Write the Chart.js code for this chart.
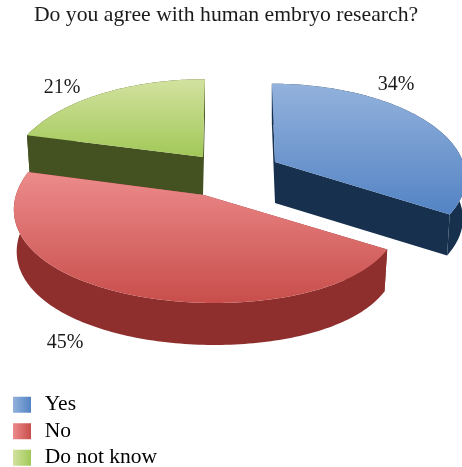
<!DOCTYPE html>
<html>
<head>
<meta charset="utf-8">
<style>
  html, body { margin: 0; padding: 0; background: #fff; }
  canvas { display: block; }
</style>
<script src="https://cdn.jsdelivr.net/npm/chart.js@4"></script>
</head>
<body>
<canvas id="pie" width="462" height="467"></canvas>
<script>
/* DATA */
const categories = ["Yes", "No", "Do not know"];
const percents = [34, 45, 21];
const chartTitle = "Do you agree with human embryo research?";

/* COLOURS: top face light -> dark, then the side wall */
const lightColors = ["#93b2dc", "#ec8b8b", "#d2e29f"];
const darkColors = ["#5383c4", "#c84e4b", "#a2c858"];
const sideColors = ["#17304e", "#8e2f2d", "#445221"];

/* PROJECTION of each slice: where the tip lands, how the flat circle is squashed */
const sliceGeom = [
  { ax: 275, ay: 162, rx: 188, ry: 90, px: 0.15, py: 0.15, shear: 0.04, depth: 41 },
  { ax: 204, ay: 195, rx: 188, ry: 95, px: 0.2, py: 0.12, shear: 0.1, depth: 42 },
  { ax: 203, ay: 157, rx: 190, ry: 91, px: 0.17, py: 0.17, shear: -0.025, depth: 38 }
];
const labelSpots = [[396, 85], [65, 343], [62, 88]];
const FONT = "'Liberation Serif', serif";

function project(g, theta) {
  const u = Math.sin(theta), v = Math.cos(theta);
  const dy = -g.ry * v / (1 + g.py * v);
  return { x: g.ax + g.rx * u / (1 + g.px * v) + g.shear * dy, y: g.ay + dy };
}

function arcPoints(g, start, end) {
  const pts = [];
  const steps = Math.ceil((end - start) / 0.02);
  for (let i = 0; i <= steps; i++) {
    pts.push(project(g, start + (end - start) * i / steps));
  }
  return pts;
}

function tracePath(ctx, pts) {
  ctx.beginPath();
  pts.forEach((p, i) => i ? ctx.lineTo(p.x, p.y) : ctx.moveTo(p.x, p.y));
  ctx.closePath();
}

function drawSlice(ctx, arc, i) {
  const g = sliceGeom[i];
  // library angles start at -90deg, the projection counts from 12 o'clock
  const rim = arcPoints(g, arc.startAngle + Math.PI / 2, arc.endAngle + Math.PI / 2);
  const tip = { x: g.ax, y: g.ay };
  const low = p => ({ x: g.ax + (p.x - g.ax) * 0.985, y: p.y + g.depth });
  const first = rim[0], last = rim[rim.length - 1];

  // side walls: the round one and both cut faces
  ctx.fillStyle = sideColors[i];
  tracePath(ctx, rim.concat(rim.map(low).reverse()));
  ctx.fill();
  tracePath(ctx, [tip, first, low(first), low(tip)]);
  ctx.fill();
  tracePath(ctx, [tip, last, low(last), low(tip)]);
  ctx.fill();

  // top face
  const pts = [tip].concat(rim);
  const ys = pts.map(p => p.y);
  const grad = ctx.createLinearGradient(0, Math.min(...ys), 0, Math.max(...ys));
  grad.addColorStop(0, lightColors[i]);
  grad.addColorStop(1, darkColors[i]);
  tracePath(ctx, pts);
  ctx.fillStyle = grad;
  ctx.fill();
}

const pie3d = {
  id: "pie3d",
  beforeDatasetsDraw(chart) {
    const ctx = chart.ctx;
    const arcs = chart.getDatasetMeta(0).data;
    ctx.save();
    // back slices first, the red one sits in front
    [2, 0, 1].forEach(i => drawSlice(ctx, arcs[i], i));
    ctx.fillStyle = "#1a1a1a";
    ctx.font = "20px " + FONT;
    ctx.textAlign = "center";
    ctx.textBaseline = "middle";
    percents.forEach((v, i) => ctx.fillText(v + "%", labelSpots[i][0], labelSpots[i][1]));
    ctx.restore();
    return false;
  }
};

const gctx = document.getElementById("pie").getContext("2d");

function legendFill(i) {
  // box is wider than the visible swatch, this keeps the text gap right
  const grad = gctx.createLinearGradient(13, 0, 34, 0);
  grad.addColorStop(0, lightColors[i]);
  grad.addColorStop(18 / 21, darkColors[i]);
  grad.addColorStop(18 / 21, "rgba(255,255,255,0)");
  grad.addColorStop(1, "rgba(255,255,255,0)");
  return grad;
}

new Chart(gctx, {
  type: "pie",
  data: {
    labels: categories,
    datasets: [{ data: percents, backgroundColor: darkColors }]
  },
  plugins: [pie3d],
  options: {
    responsive: false,
    animation: false,
    devicePixelRatio: 1,
    layout: { padding: { left: 8, right: 18, top: 0, bottom: -6.5 } },
    plugins: {
      tooltip: { enabled: false },
      title: {
        display: true,
        text: chartTitle,
        color: "#1a1a1a",
        align: "center",
        font: { family: FONT, size: 21.7, weight: "normal" },
        padding: { top: 2, bottom: 10 }
      },
      legend: {
        position: "left",
        align: "end",
        labels: {
          color: "#1a1a1a",
          font: { family: FONT, size: 21.5 },
          boxWidth: 21,
          boxHeight: 16,
          padding: 5,
          generateLabels: chart => categories.map((c, i) => ({
            text: c,
            fillStyle: legendFill(i),
            strokeStyle: "rgba(0,0,0,0)",
            lineWidth: 0,
            datasetIndex: 0,
            index: i
          }))
        }
      }
    }
  }
});
</script>
</body>
</html>
